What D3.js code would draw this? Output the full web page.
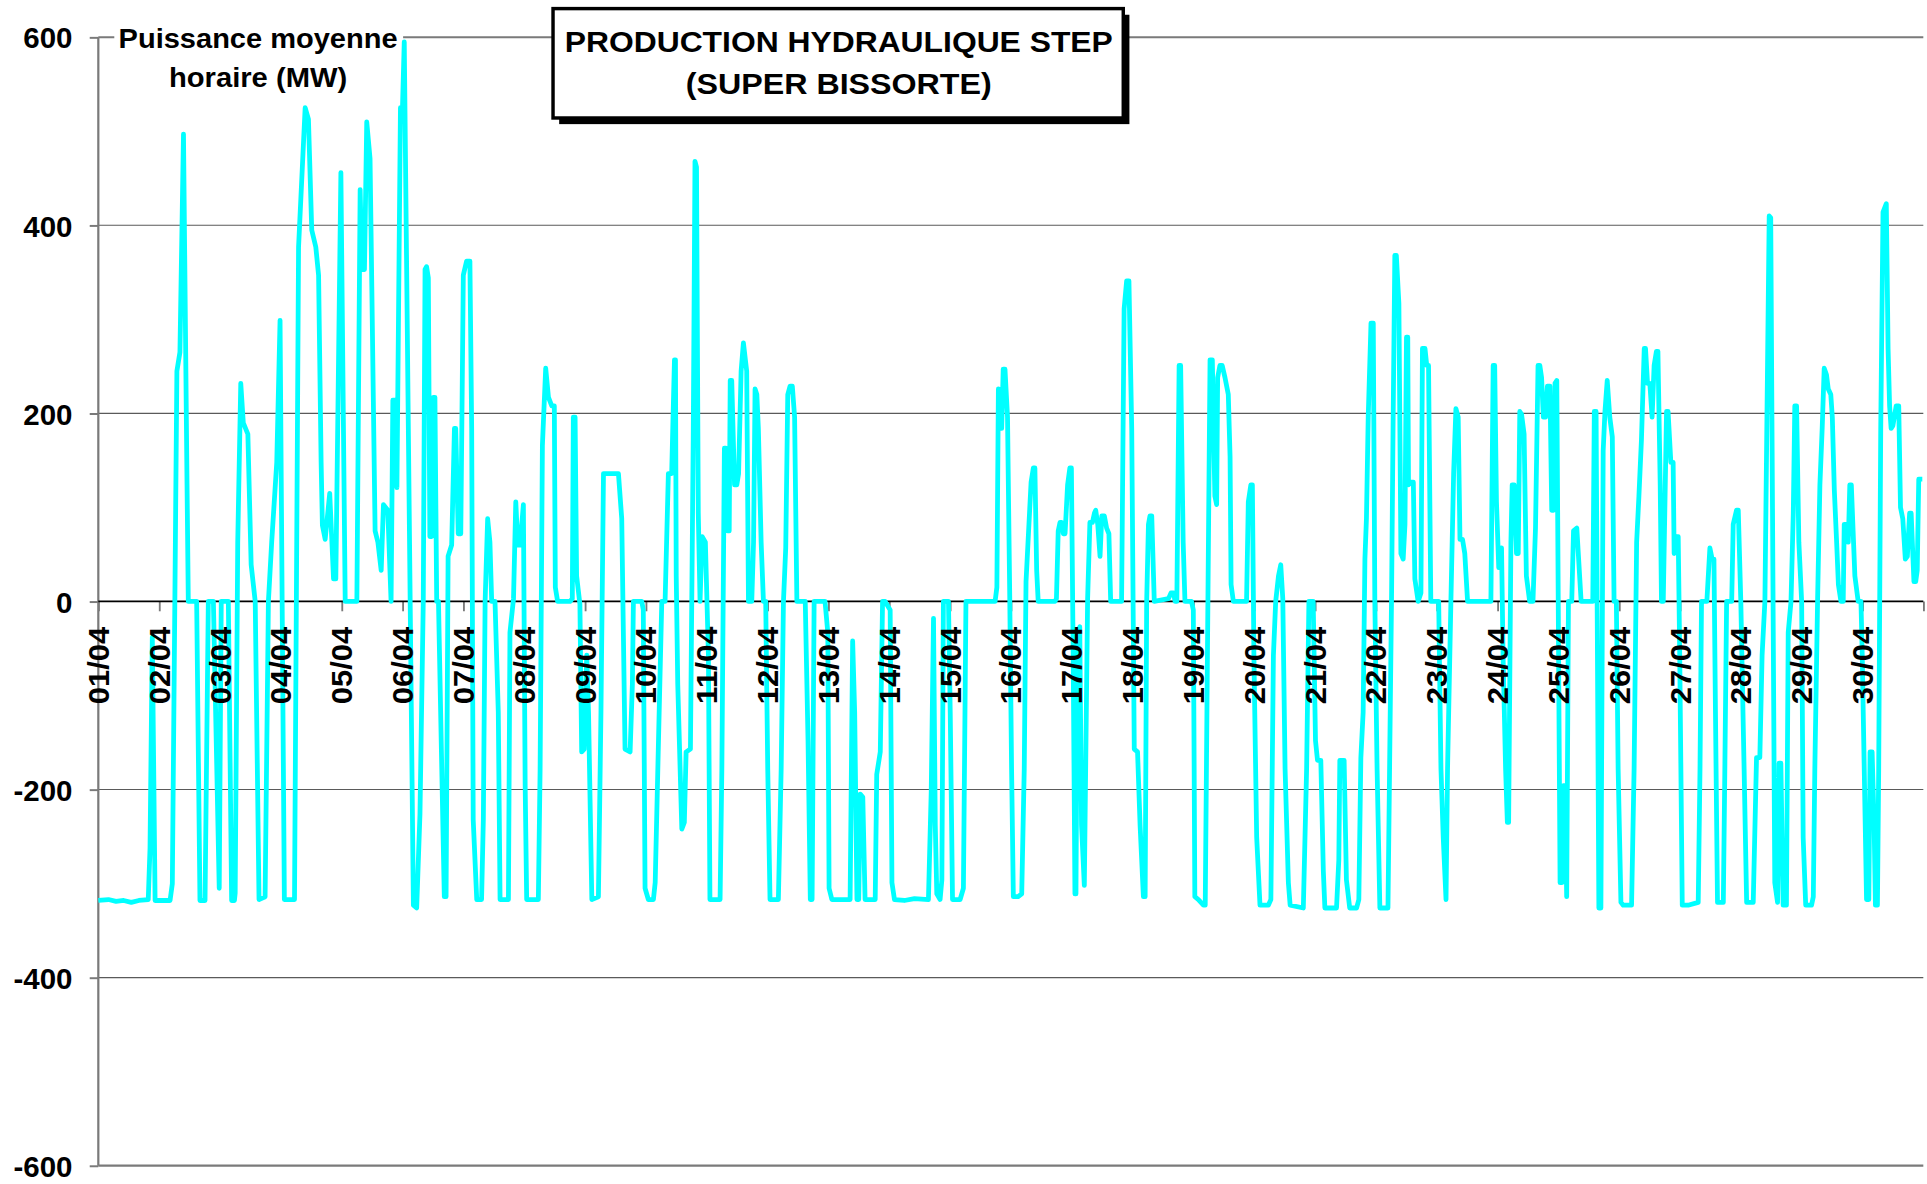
<!DOCTYPE html>
<html><head><meta charset="utf-8">
<script src="https://cdnjs.cloudflare.com/ajax/libs/d3/7.8.5/d3.min.js"></script>
<style>html,body{margin:0;padding:0;background:#fff;overflow:hidden}</style>
</head><body>
<svg id="chart"></svg>
<script>
// ---- data ----
const dayLabels = ["01/04","02/04","03/04","04/04","05/04","06/04","07/04","08/04","09/04","10/04",
  "11/04","12/04","13/04","14/04","15/04","16/04","17/04","18/04","19/04","20/04",
  "21/04","22/04","23/04","24/04","25/04","26/04","27/04","28/04","29/04","30/04"];
const yTickValues = [-600,-400,-200,0,200,400,600];
const titleLines = ["PRODUCTION HYDRAULIQUE STEP","(SUPER BISSORTE)"];
const yTitleLines = ["Puissance moyenne","horaire (MW)"];
// hour since 01/04 00:00 and average hourly power (MW)
const hours = [0,4,7,10,13,16,19.7,20.4,21.3,22.4,28.3,29.2,31.0,32.2,33.6,35.0,35.5,38.8,40.1,42.1,43.4,45.4,47.7,48.5,51.3,52.6,53.7,54.0,55.0,56.2,57.2,59.0,60.3,61.9,63.4,65.8,67.1,68.4,70.4,71.7,73.4,77.4,79.0,81.6,82.9,84.2,85.8,86.9,87.9,88.4,89.5,91.3,92.8,93.7,95.7,97.4,102.0,103.3,104.0,105.0,105.9,107.2,107.9,109.2,110.3,111.6,112.5,114.2,115.5,116.2,117.1,117.8,119.2,120.0,120.7,124.3,125.6,126.9,128.2,128.9,129.5,130.2,130.8,131.5,132.2,132.8,133.5,134.2,135.5,136.5,137.2,138.0,139.4,140.5,141.0,142.0,143.0,144.0,145.3,146.6,147.3,147.9,149.3,151.2,151.9,152.6,153.6,154.5,155.2,156.5,157.8,158.5,161.8,162.4,163.8,164.7,165.5,166.4,167.7,168.4,169.0,173.6,174.3,175.2,176.5,177.6,178.9,179.9,180.3,181.2,186.1,187.0,187.4,188.1,188.7,190.0,190.7,191.7,192.7,193.4,194.7,197.3,198.3,199.3,203.9,205.2,206.5,207.8,209.8,210.7,211.1,214.4,215.0,215.7,217.0,219.0,219.7,221.0,222.3,223.6,224.9,226.2,227.3,227.7,228.0,228.6,230.2,231.2,231.9,233.6,234.7,235.4,236.0,236.7,237.4,238.2,239.5,240.7,241.3,245.3,246.0,247.0,247.6,248.3,248.9,249.3,249.9,251.0,251.9,252.6,253.6,254.5,255.8,256.5,257.8,258.5,259.1,259.8,260.4,261.5,262.4,263.3,264.1,265.0,268.3,269.4,270.3,271.2,272.0,272.9,273.8,274.7,275.6,278.9,280.0,280.9,281.6,282.4,286.7,287.8,288.3,289.4,296.6,297.6,298.4,299.3,300.0,300.6,301.6,302.5,306.5,307.1,308.5,309.4,310.4,312.4,313.1,314.1,318.0,322.0,327.5,328.6,329.5,330.2,330.8,332.1,332.8,333.4,335.4,336.1,337.0,340.0,341.3,342.3,353.8,354.5,355.1,355.7,356.4,357.0,357.7,358.7,359.6,360.3,361.0,362.9,364.3,365.3,366.0,368.0,368.9,369.5,370.2,370.8,377.4,378.0,378.7,379.4,380.0,380.7,381.4,382.4,383.3,383.9,384.6,385.3,385.7,386.3,387.2,387.9,389.0,390.3,391.2,392.2,393.0,393.5,394.3,395.2,395.9,396.9,397.8,398.7,399.4,403.7,404.7,405.7,406.6,407.7,408.7,410.0,411.0,412.3,413.0,413.6,414.3,414.9,415.6,416.6,422.2,423.2,424.2,424.8,425.5,426.4,427.0,428.0,428.7,431.3,432.0,432.6,434.0,436.0,436.7,438.6,439.5,440.5,441.2,441.6,442.5,443.4,444.5,445.8,446.5,446.9,447.8,453.0,453.7,454.7,455.3,455.9,457.0,458.3,461.6,462.6,463.6,464.5,465.6,466.5,467.3,468.2,469.5,470.2,475.4,476.7,477.6,479.3,480.2,481.0,482.3,483.3,483.9,488.5,489.4,489.8,491.5,492.4,493.7,496.4,497.3,498.1,499.0,499.7,500.3,501.0,502.1,503.0,503.6,504.5,505.6,508.8,510.2,510.8,511.5,512.1,513.1,513.9,514.8,515.5,516.1,516.6,516.9,517.8,518.8,519.4,520.7,521.8,522.4,523.4,524.1,524.8,525.7,528.8,529.7,530.6,531.7,532.3,533.6,534.7,535.6,536.5,537.2,538.2,539.1,540.2,549.4,550.3,550.9,551.6,552.5,553.6,554.2,555.2,555.9,556.4,557.3,557.8,558.6,559.5,560.2,560.8,561.5,562.5,563.4,564.7,566.0,567.0,568.0,568.7,569.4,570.1,571.0,571.7,572.7,573.4,574.1,574.7,575.4,576.7,577.4,578.0,578.7,579.3,580.0,581.3,582.0,583.3,585.0,589.6,590.2,590.9,592.0,592.8,593.7,594.4,595.3,596.3,597.3,598.0,598.9,599.6,600.7,601.6,604.9,605.9,606.9,607.8,608.8,609.9,610.4,611.2,612.1,613.0,613.8,614.7,615.3,616.2,616.7,617.4,618.7,619.3,620.4,621.3,621.7,622.6,623.3,623.9,624.9,627.2,631.2,631.9,632.5,634.6,635.8,636.7,637.4,638.0,638.8,641.1,641.7,642.4,644.4,645.0,646.3,647.0,648.0,649.3,650.3,652.9,654.2,655.5,656.4,657.5,659.2,659.8,661.4,662.5,663.1,663.8,664.7,666.0,666.7,667.8,668.7,669.3,670.0,670.9,672.0,672.6,673.6,675.9,676.6,677.2,678.3,679.2,680.1,680.9,681.8,682.5,683.5,684.1,684.9,685.8,686.5,687.5,688.4,688.8,689.7,690.4,691.0,691.6,692.3,693.0,694.3,695.4,695.9,697.6,698.5,699.0,699.8,700.6,701.1,701.9,702.4,703.2,704.1,705.4,706.1,706.7,707.3,708.0,709.3,710.3,711.0,711.9,712.9,713.7,714.6,715.2,716.3,717.0,717.6,718.2,719.6];
const mw = [-318,-317,-319,-318,-320,-318,-317,-262,-38,-318,-318,-300,245,265,497,124,0,0,-318,-318,0,0,-305,0,0,-318,-318,-310,63,232,190,178,39,0,-317,-314,0,63,148,299,-317,-317,377,525,513,395,377,347,148,81,66,115,24,24,456,0,0,438,353,353,510,471,335,75,63,33,103,97,0,214,214,121,525,525,595,-323,-326,-226,0,353,356,344,69,69,217,217,0,0,-178,-314,-314,48,60,184,184,72,72,347,362,362,184,-232,-317,-317,-232,0,88,63,0,0,-118,-317,-317,-33,3,106,60,60,103,-196,-317,-317,-178,166,248,217,208,208,15,0,0,3,196,196,27,-3,-160,-157,-57,-118,-317,-314,-118,136,136,136,88,-157,-160,-88,0,0,-9,-305,-317,-317,-299,-148,0,0,136,136,257,257,27,-88,-242,-235,-160,-157,172,468,462,94,0,69,63,-57,-317,-317,-178,163,163,75,75,235,235,124,124,136,245,275,245,0,0,63,226,220,184,63,0,0,-178,-317,-317,-178,0,57,220,229,229,196,0,0,-148,-317,-317,0,0,-33,-305,-317,-317,-42,-118,-317,-317,-205,-208,-317,-317,-184,-160,0,0,-9,-299,-317,-318,-316,-317,-202,-18,-238,-311,-317,-296,0,0,-118,-317,-317,-305,0,0,15,226,184,184,247,247,196,0,-178,-314,-314,-311,-178,21,127,142,142,33,0,0,3,75,84,84,72,72,124,142,142,-57,-311,-311,-33,-27,-238,-302,3,84,84,94,97,82,48,91,91,78,72,0,0,311,341,341,184,-157,-160,-238,-314,-314,0,82,91,91,0,3,9,9,0,0,251,251,63,0,0,-9,-314,-317,-323,-323,257,257,112,103,238,251,251,238,220,154,18,0,0,106,124,124,-57,-251,-323,-323,-317,-57,0,27,39,3,-178,-299,-323,-326,-178,0,0,-148,-169,-169,-287,-326,-326,-275,-169,-169,-296,-326,-326,-317,-166,-118,45,88,196,296,296,3,-178,-326,-326,3,184,368,368,317,51,45,82,281,281,124,127,127,24,0,9,269,269,251,251,0,0,-178,-251,-317,-178,-3,136,205,196,66,66,51,0,0,251,251,106,36,57,-57,-178,-235,-235,63,124,124,51,51,202,199,178,27,0,0,78,251,251,238,196,196,229,229,97,97,232,235,-299,-299,-196,-196,-314,0,0,75,78,0,0,202,202,-326,-326,160,202,235,196,175,0,0,-178,-320,-323,-323,-178,63,112,172,269,269,232,232,196,251,266,266,124,0,0,202,202,148,148,51,69,69,-57,-323,-323,-320,-178,0,0,57,45,45,-118,-320,-320,-178,0,0,82,97,97,0,-178,-320,-320,-166,-166,-57,0,410,408,-299,-320,-172,-172,-323,-323,-33,0,94,208,208,63,0,-251,-323,-323,-314,-178,3,124,184,248,241,226,220,196,118,63,18,0,0,82,82,63,124,124,75,27,0,0,-57,-317,-317,-160,-160,-238,-323,-323,-178,184,414,423,269,208,184,187,208,208,100,88,45,48,94,94,21,21,33,130,130];

// ---- layout (drawn in a 1568-wide frame, scaled to the window) ----
const W = 1927, H = 1184, VW = 1568, VH = VW * H / W;
const svg = d3.select("#chart").attr("width", W).attr("height", H)
  .attr("viewBox", `0 0 ${VW} ${VH}`).style("display","block");
const FONT = "'Liberation Sans', Arial, Helvetica, sans-serif";
const x0 = 80, x1 = 1565;
const x = d3.scaleLinear().domain([0, 720]).range([x0, x1]);
const y = d3.scaleLinear().domain([-600, 600]).range([948.5, 30.3]);

svg.append("rect").attr("width", VW).attr("height", VH).attr("fill", "#fff");

// horizontal gridlines
const grid = svg.append("g");
grid.selectAll("line.g").data(yTickValues.filter(v => v !== 0 && Math.abs(v) !== 600)).join("line")
  .attr("x1", x0).attr("x2", x1).attr("y1", d => y(d)).attr("y2", d => y(d))
  .attr("stroke", "#5a5a5a").attr("stroke-width", 0.9);
grid.selectAll("line.b").data([600, -600]).join("line")
  .attr("x1", x0).attr("x2", x1).attr("y1", d => y(d)).attr("y2", d => y(d))
  .attr("stroke", "#7a7a7a").attr("stroke-width", 1.8);

// y axis
const yAxis = svg.append("g").attr("transform", `translate(${x0},0)`)
  .call(d3.axisLeft(y).tickValues(yTickValues).tickSize(7).tickPadding(14).tickFormat(d => String(d)));
yAxis.select(".domain").remove();
yAxis.selectAll(".tick line").attr("stroke", "#7a7a7a").attr("stroke-width", 1.6);
yAxis.selectAll(".tick text").attr("font-family", FONT).attr("font-weight", "bold")
  .attr("font-size", 24).attr("fill", "#000").attr("dy", "0.36em");
svg.append("line").attr("x1", x0).attr("x2", x0).attr("y1", y(600)).attr("y2", y(-600))
  .attr("stroke", "#7a7a7a").attr("stroke-width", 1.8);

// axis title (white label box)
svg.append("rect").attr("x", 93).attr("y", 18).attr("width", 235).attr("height", 62).attr("fill", "#fff");
svg.selectAll("text.yt").data(yTitleLines).join("text").attr("class", "yt")
  .attr("x", 210).attr("y", (d, i) => 39.3 + i * 31.7)
  .attr("text-anchor", "middle").attr("font-family", FONT).attr("font-weight", "bold")
  .attr("font-size", 22).attr("textLength", (d, i) => [227, 145][i]).attr("lengthAdjust", "spacingAndGlyphs")
  .text(d => d);

// category axis line and ticks at 0
const xTicks = d3.range(0, dayLabels.length + 1).map(d => d * 24);
const xAxis = svg.append("g").attr("transform", `translate(0,${y(0)})`)
  .call(d3.axisBottom(x).tickValues(xTicks).tickSize(8).tickPadding(0)
    .tickFormat((d, i) => dayLabels[i] || ""));
xAxis.select(".domain").remove();
xAxis.selectAll(".tick line").attr("stroke", "#7a7a7a").attr("stroke-width", 1.5);
const xLabels = xAxis.selectAll(".tick text").remove();
svg.append("line").attr("x1", x0).attr("x2", x1).attr("y1", y(0)).attr("y2", y(0))
  .attr("stroke", "#000").attr("stroke-width", 1.4);

// series line
const pts = hours.map((h, i) => [h, mw[i]]);
svg.append("path").datum(pts)
  .attr("d", d3.line().x(d => x(d[0])).y(d => y(d[1])))
  .attr("fill", "none").attr("stroke", "#00FFFF").attr("stroke-width", 3.9)
  .attr("stroke-linejoin", "round").attr("stroke-linecap", "butt");

// day labels drawn above the line
svg.append("g").selectAll("text").data(dayLabels).join("text")
  .attr("transform", (d, i) => `translate(${x(i * 24)},${510}) rotate(-90)`)
  .attr("text-anchor", "end").attr("dy", "0.36em")
  .attr("font-family", FONT).attr("font-weight", "bold").attr("font-size", 24)
  .attr("textLength", 63).attr("lengthAdjust", "spacingAndGlyphs")
  .attr("fill", "#000").text(d => d);

// title box with shadow
svg.append("rect").attr("x", 455).attr("y", 12).attr("width", 464).attr("height", 89).attr("fill", "#000");
svg.append("rect").attr("x", 450).attr("y", 7).attr("width", 464).attr("height", 89)
  .attr("fill", "#fff").attr("stroke", "#000").attr("stroke-width", 2.8);
svg.selectAll("text.t").data(titleLines).join("text").attr("class", "t")
  .attr("x", 682.5).attr("y", (d, i) => 42.5 + i * 34)
  .attr("text-anchor", "middle").attr("font-family", FONT).attr("font-weight", "bold")
  .attr("font-size", 24).attr("textLength", (d, i) => [446, 249][i]).attr("lengthAdjust", "spacingAndGlyphs")
  .text(d => d);
</script>
</body></html>
